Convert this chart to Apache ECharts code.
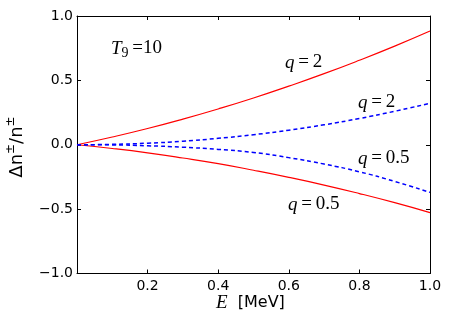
<!DOCTYPE html>
<html>
<head>
<meta charset="utf-8">
<script src="https://cdn.jsdelivr.net/npm/echarts@6/dist/echarts.min.js"></script>
<style>
  html, body { margin: 0; padding: 0; background: #fff; }
  #chart { width: 463px; height: 326px; }
</style>
</head>
<body>
<div id="chart"></div>
<script>
// E [MeV]
const energy = [0, 0.1, 0.2, 0.3, 0.4, 0.5, 0.6, 0.7, 0.8, 0.9, 1.0]
// red solid curves
const redQ2 = [0, 0.060, 0.126, 0.199, 0.278, 0.363, 0.455, 0.552, 0.656, 0.766, 0.883]
const redQ05 = [0, -0.029, -0.063, -0.103, -0.147, -0.198, -0.253, -0.313, -0.379, -0.450, -0.527]
// blue dashed curves
const blueQ2 = [0, 0.003, 0.012, 0.027, 0.050, 0.078, 0.113, 0.155, 0.204, 0.260, 0.322]
const blueQ05 = [0, -0.001, -0.008, -0.019, -0.036, -0.060, -0.100, -0.150, -0.210, -0.285, -0.370]

const xTicks = [0.2, 0.4, 0.6, 0.8, 1.0]
const yTicks = [-1.0, -0.5, 0.0, 0.5, 1.0]

let chart = echarts.init(document.getElementById('chart'))

const tickFont = { fontFamily: 'DejaVu Sans', fontSize: 14, color: '#000' }
const axisLine = { show: true, onZero: false, lineStyle: { color: '#000', width: 1 } }
const axisTick = { show: true, inside: true, length: 4, lineStyle: { color: '#000' } }

function toSeries(ys, color, dashed) {
  return {
    type: 'line',
    data: energy.map((x, i) => [x, ys[i]]),
    smooth: true,
    symbol: 'none',
    lineStyle: { color, width: dashed ? 1.5 : 1.2, type: dashed ? [4, 3] : 'solid' },
  }
}

// rich text for "q=..." labels
const mathRich = {
  i: { fontFamily: 'Liberation Serif', fontStyle: 'italic', fontSize: 19, color: '#000' },
  r: { fontFamily: 'Liberation Serif', fontSize: 19, color: '#000' },
  sub: { fontFamily: 'Liberation Serif', fontSize: 14, color: '#000', padding: [10, 0, 0, 0] },
}

function mathText(left, top, str) {
  return { type: 'text', left, top, style: { rich: mathRich, text: str } }
}

chart.setOption({
  animation: false,
  grid: { left: 77, right: 33, top: 16, bottom: 52.5 },
  xAxis: [
    {
      type: 'value', min: 0, max: 1, interval: 0.2,
      axisLine, axisTick, splitLine: { show: false },
      axisLabel: Object.assign({
        margin: 6,
        formatter: (v) => (xTicks.some((t) => Math.abs(t - v) < 1e-6) ? v.toFixed(1) : ''),
      }, tickFont),
    },
    {
      type: 'value', position: 'top', min: 0, max: 1, interval: 0.2,
      axisLine, axisTick, splitLine: { show: false }, axisLabel: { show: false },
    },
  ],
  yAxis: [
    {
      type: 'value', min: -1, max: 1, interval: 0.5,
      axisLine, axisTick, splitLine: { show: false },
      axisLabel: Object.assign({
        margin: 4,
        formatter: (v) => {
          let t = yTicks.find((k) => Math.abs(k - v) < 1e-6)
          return t === undefined ? '' : t.toFixed(1).replace('-', '\u2212')
        },
      }, tickFont),
    },
    {
      type: 'value', position: 'right', min: -1, max: 1, interval: 0.5,
      axisLine, axisTick, splitLine: { show: false }, axisLabel: { show: false },
    },
  ],
  series: [
    toSeries(redQ2, '#ff0000', false),
    toSeries(redQ05, '#ff0000', false),
    toSeries(blueQ2, '#0000ff', true),
    toSeries(blueQ05, '#0000ff', true),
  ],
  graphic: [
    mathText(111, 39, '{i|T}{sub|9}{r|\u2009=10}'),
    mathText(285, 53, '{i|q}{r|\u2009=\u20092}'),
    mathText(358, 93, '{i|q}{r|\u2009=\u20092}'),
    mathText(358, 149, '{i|q}{r|\u2009=\u20090.5}'),
    mathText(288, 195, '{i|q}{r|\u2009=\u20090.5}'),
    {
      type: 'text', left: 216, top: 293,
      style: {
        rich: {
          i: { fontFamily: 'Liberation Serif', fontStyle: 'italic', fontSize: 19, color: '#000' },
          s: { fontFamily: 'DejaVu Sans', fontSize: 16, color: '#000' },
        },
        text: '{i|E}{s|  [MeV]}',
      },
    },
    {
      type: 'text', x: 17, y: 147, rotation: Math.PI / 2,
      style: {
        rich: {
          a: { fontFamily: 'DejaVu Sans', fontSize: 18, color: '#000', lineHeight: 24 },
          s: { fontFamily: 'DejaVu Sans', fontSize: 12, color: '#000', lineHeight: 24, verticalAlign: 'top' },
        },
        text: '{a|\u0394n}{s|\u00b1}{a|/n}{s|\u00b1}',
        align: 'center', verticalAlign: 'middle',
      },
    },
  ],
})
</script>
</body>
</html>
